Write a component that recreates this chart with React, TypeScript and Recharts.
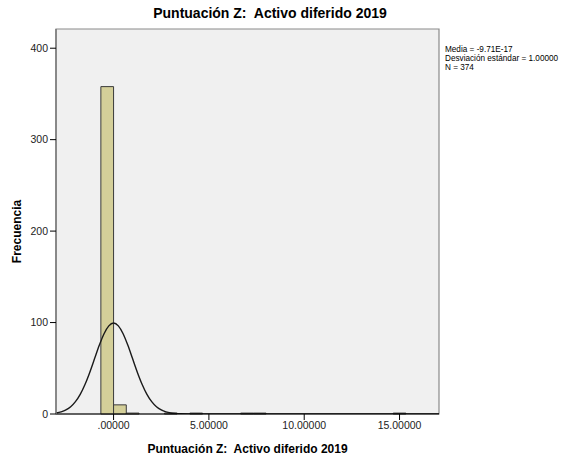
import React from 'react';
import { ComposedChart, Line, XAxis, YAxis, ReferenceArea } from 'recharts';

const binStart = [-0.6667, 0, 0.6667, 2.6667, 4, 6.6667, 7.3333, 14.6667];
const binEnd = [0, 0.6667, 1.3333, 3.3333, 4.6667, 7.3333, 8, 15.3333];
const binCount = [358, 10, 1, 1, 1, 1, 1, 1];

const curveX = [-3.02, -2.75, -2.5, -2.25, -2, -1.75, -1.5, -1.25, -1, -0.75, -0.5, -0.25, 0, 0.25, 0.5, 0.75, 1, 1.25, 1.5, 1.75, 2, 2.25, 2.5, 2.75, 3, 3.25, 3.5, 4, 5, 17.07];
const curveY = [1.0, 2.3, 4.4, 7.9, 13.5, 21.5, 32.3, 45.5, 60.3, 75.1, 87.8, 96.4, 99.5, 96.4, 87.8, 75.1, 60.3, 45.5, 32.3, 21.5, 13.5, 7.9, 4.4, 2.3, 1.1, 0.5, 0.2, 0.05, 0, 0];

const xTicks = [0, 5, 10, 15];
const xTickLabels = ['.00000', '5.00000', '10.00000', '15.00000'];
const yTicks = [0, 100, 200, 300, 400];

const titleText = 'Puntuación Z:  Activo diferido 2019';
const xAxisTitle = 'Puntuación Z:\u00A0 Activo diferido 2019';
const statsLines = ['Media = -9.71E-17', 'Desviación estándar = 1.00000', 'N = 374'];

const X_MIN = -3.02;
const X_MAX = 17.07;
const Y_MAX = 421;

const data = curveX.map((x, i) => ({ x, y: curveY[i] }));
const FONT = '"Liberation Sans", Arial, sans-serif';

export default function App() {
  return (
    <div style={{ position: 'absolute', left: 0, top: 0, width: 570, height: 462, background: '#fff', fontFamily: FONT }}>
      <div style={{ position: 'absolute', left: 0, width: 540, top: 6, textAlign: 'center', fontSize: 14, fontWeight: 'bold', lineHeight: '14px', color: '#000', whiteSpace: 'pre' }}>
        {titleText}
      </div>
      <div style={{ position: 'absolute', left: 445, top: 45, fontSize: 8.2, lineHeight: '9px', color: '#000', whiteSpace: 'pre' }}>
        {statsLines.map((s, i) => (<div key={i} style={{ height: 9 }}>{s}</div>))}
      </div>
      <ComposedChart width={570} height={462} data={data} margin={{ top: 29, right: 131, bottom: 0, left: 0 }}>
        <XAxis
          dataKey="x"
          type="number"
          domain={[X_MIN, X_MAX]}
          allowDataOverflow
          ticks={xTicks}
          tickFormatter={(v: number) => xTickLabels[xTicks.indexOf(v)] ?? String(v)}
          height={48}
          stroke="#000"
          tickLine={{ stroke: '#000' }}
          tickSize={6}
          tick={{ fontSize: 10.5, fill: '#222', fontFamily: FONT }}
          label={{ value: xAxisTitle, position: 'insideBottom', offset: 9, style: { fontSize: 12, fontWeight: 'bold', fill: '#000', fontFamily: FONT } }}
        />
        <YAxis
          type="number"
          domain={[0, Y_MAX]}
          allowDataOverflow
          ticks={yTicks}
          width={56}
          axisLine={{ stroke: '#7a7a7a', strokeWidth: 1.5 }}
          tickLine={{ stroke: '#000' }}
          tickSize={6}
          tick={{ fontSize: 10.5, fill: '#222', fontFamily: FONT }}
          label={{ value: 'Frecuencia', angle: -90, position: 'insideLeft', offset: 17, dy: 10, style: { fontSize: 12, fontWeight: 'bold', fill: '#000', fontFamily: FONT, textAnchor: 'middle' } }}
        />
        <ReferenceArea x1={X_MIN} x2={X_MAX} y1={0} y2={Y_MAX} fill="#f0f0f0" fillOpacity={1} stroke="#8a8a8a" strokeWidth={1.2} />
        {binStart.map((s, i) => (
          <ReferenceArea key={i} x1={s} x2={binEnd[i]} y1={0} y2={binCount[i]} fill="#d4cf99" fillOpacity={1} stroke="#3a3a3a" strokeWidth={1} />
        ))}
        <Line dataKey="y" type="monotone" stroke="#1a1a1a" strokeWidth={1.4} dot={false} isAnimationActive={false} />
      </ComposedChart>
    </div>
  );
}
